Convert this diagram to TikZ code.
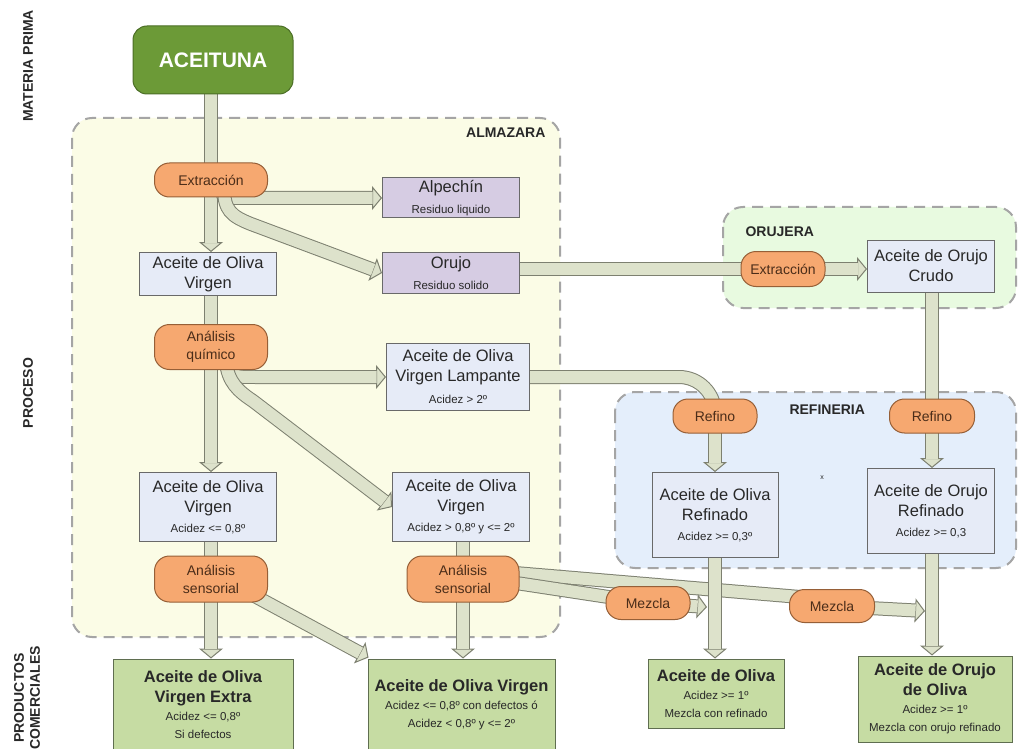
\documentclass[tikz,border=0pt]{standalone}
\usepackage{fontspec}
\setmainfont{Liberation Sans}
\usetikzlibrary{arrows.meta,calc}
\pgfdeclarelayer{bg}
\pgfdeclarelayer{arr}
\pgfsetlayers{bg,arr,main}
\definecolor{bandfill}{RGB}{221,226,203}
\definecolor{bandline}{RGB}{125,128,112}
\definecolor{pillfill}{RGB}{246,168,112}
\definecolor{pillline}{RGB}{150,95,55}
\definecolor{pilltext}{RGB}{75,45,25}
\definecolor{boxfill}{RGB}{230,235,247}
\definecolor{boxline}{RGB}{105,105,105}
\definecolor{purfill}{RGB}{214,204,227}
\definecolor{prodfill}{RGB}{198,220,163}
\definecolor{prodline}{RGB}{95,110,80}
\definecolor{acegreen}{RGB}{108,154,55}
\definecolor{aceline}{RGB}{75,110,38}
\definecolor{almfill}{RGB}{251,252,230}
\definecolor{orufill}{RGB}{232,250,224}
\definecolor{reffill}{RGB}{228,238,251}
\definecolor{dashcol}{RGB}{165,165,165}
\definecolor{txtcol}{RGB}{40,40,40}
\newcommand\smalltxt[1]{{\fontsize{11.5}{14}\selectfont #1}}
\newcommand\prodtitle[1]{{\bfseries\fontsize{16.5}{20}\selectfont #1}}
\newcommand\bandarrow[1]{%
  \draw[bandout,bandhead] #1;
  \draw[bandin,shorten >=9.5pt] #1;}
\newcommand\bandline[1]{%
  \draw[bandout] #1;
  \draw[bandin] #1;}
\tikzset{
  region/.style={draw=dashcol,line width=2pt,dash pattern=on 11pt off 7pt,rounded corners=20pt},
  pill/.style={draw=pillline,fill=pillfill,line width=1pt,rounded corners=15pt,text=pilltext,
    font=\fontsize{14}{18}\selectfont,align=center,inner sep=0pt},
  infobox/.style={draw=boxline,fill=boxfill,line width=1pt,font=\fontsize{16.5}{20}\selectfont,
    align=center,inner sep=0pt,text=txtcol},
  resbox/.style={infobox,fill=purfill},
  prodbox/.style={draw=prodline,fill=prodfill,line width=1pt,align=center,inner sep=0pt,
    font=\fontsize{11.5}{18}\selectfont,text=txtcol},
  side/.style={font=\bfseries\fontsize{14}{16}\selectfont,rotate=90,align=center,text=txtcol},
  reglabel/.style={font=\bfseries\fontsize{14}{16}\selectfont,text=txtcol},
  bandout/.style={line width=14pt,draw=bandline},
  bandin/.style={line width=12pt,draw=bandfill},
  bandhead/.style={-{Triangle[length=10pt,width=24pt,color=bandline,fill=bandfill,line width=1pt]}},
}
\begin{document}
\begin{tikzpicture}[x=1pt,y=-1pt]
\useasboundingbox (0,0) rectangle (1021,749);
% side labels
\node[side] (lmp) at (28,66) {MATERIA PRIMA};
\node[side] (lproc) at (28,393) {PROCESO};
\node[side] (lprod) at (27,698) {PRODUCTOS\\COMERCIALES};
% region labels
\node[reglabel,anchor=east] (lalm) at (549,133) {ALMAZARA};
\node[reglabel,anchor=west] (loru) at (742,232) {ORUJERA};
\node[reglabel,anchor=west] (lref) at (786,410) {REFINERIA};
\node[font=\fontsize{7}{8}\selectfont,text=txtcol] (xmark) at (822,478) {x};
% nodes
\node[draw=aceline,fill=acegreen,line width=1pt,rounded corners=14pt,minimum width=160pt,minimum height=68pt,
  text=white,font=\bfseries\fontsize{21}{24}\selectfont] (acei) at (213,60) {ACEITUNA};
\node[pill,minimum width=113pt,minimum height=34pt] (ext1) at (211,180) {Extracción};
\node[resbox,minimum width=137pt,minimum height=40pt] (alpe) at (451,198) {Alpechín\\[1pt]\smalltxt{Residuo liquido}};
\node[resbox,minimum width=137pt,minimum height=41pt] (oruj) at (451,273) {Orujo\\[1pt]\smalltxt{Residuo solido}};
\node[infobox,minimum width=137pt,minimum height=43pt] (aov1) at (208,274) {Aceite de Oliva\\Virgen};
\node[pill,minimum width=113pt,minimum height=45pt] (aq) at (211,347) {Análisis\\químico};
\node[infobox,minimum width=143pt,minimum height=67pt] (lamp) at (458,377) {Aceite de Oliva\\Virgen Lampante\\[2pt]\smalltxt{Acidez > 2º}};
\node[infobox,minimum width=137pt,minimum height=69pt] (aovL) at (208,507) {Aceite de Oliva\\Virgen\\\smalltxt{Acidez <= 0,8º}};
\node[infobox,minimum width=137pt,minimum height=69pt] (aovM) at (461,507) {Aceite de Oliva\\Virgen\\\smalltxt{Acidez > 0,8º y <= 2º}};
\node[pill,minimum width=113pt,minimum height=46pt] (asL) at (211,579) {Análisis\\sensorial};
\node[pill,minimum width=112pt,minimum height=46pt] (asM) at (463,579) {Análisis\\sensorial};
\node[pill,minimum width=84pt,minimum height=35pt] (ext2) at (783,269) {Extracción};
\node[infobox,minimum width=127pt,minimum height=52pt] (crudo) at (931,266) {Aceite de Orujo\\Crudo};
\node[pill,minimum width=84pt,minimum height=34pt] (ref1) at (715,416) {Refino};
\node[pill,minimum width=85pt,minimum height=34pt] (ref2) at (932,416) {Refino};
\node[infobox,minimum width=126pt,minimum height=85pt] (aor) at (715,515) {Aceite de Oliva\\Refinado\\\smalltxt{Acidez >= 0,3º}};
\node[infobox,minimum width=127pt,minimum height=85pt] (aorr) at (931,511) {Aceite de Orujo\\Refinado\\\smalltxt{Acidez >= 0,3}};
\node[pill,minimum width=84pt,minimum height=33pt] (mez1) at (648,603) {Mezcla};
\node[pill,minimum width=85pt,minimum height=33pt] (mez2) at (832,606) {Mezcla};
\node[prodbox,minimum width=180pt,minimum height=92pt] (p1) at (203,705)
  {\prodtitle{Aceite de Oliva}\\[2pt]\prodtitle{Virgen Extra}\\Acidez <= 0,8º\\Si defectos};
\node[prodbox,minimum width=187pt,minimum height=92pt] (p2) at (461.5,705)
  {\prodtitle{Aceite de Oliva Virgen}\\Acidez <= 0,8º con defectos ó\\Acidez < 0,8º y <= 2º};
\node[prodbox,minimum width=136pt,minimum height=69pt] (p3) at (716,693.5)
  {\prodtitle{Aceite de Oliva}\\Acidez >= 1º\\Mezcla con refinado};
\node[prodbox,minimum width=154pt,minimum height=86pt] (p4) at (935,699)
  {\prodtitle{Aceite de Orujo}\\[2pt]\prodtitle{de Oliva}\\Acidez >= 1º\\Mezcla con orujo refinado};
% regions
\begin{pgfonlayer}{bg}
\fill[white] (0,0) rectangle (1021,749);
\draw[region,fill=almfill] (72,118) rectangle (560,637);
\draw[region,fill=orufill] (723,207) rectangle (1016,308);
\draw[region,fill=reffill] (615,392) rectangle (1016,568);
\end{pgfonlayer}
% bands
\begin{pgfonlayer}{arr}
\bandline{(ext1.center |- acei.center) -- (ext1.center)}
\bandarrow{(ext1.center) -- (ext1.center |- aov1.north)}
\bandarrow{($(ext1.center)+(11,5)$) .. controls ($(ext1.center)+(11,18)$) .. ($(ext1.center)+(30,18)$) -- (alpe.west)}
\bandarrow{($(ext1.center)+(13,8)$) .. controls ($(ext1.center)+(13,30)$) and ($(ext1.center)+(20,36)$) .. ($(ext1.center)+(40,44)$) -- (oruj.west)}
\bandline{(ext1.center |- aov1.center) -- (aq.center)}
\bandarrow{(aq.center) -- (aq.center |- aovL.north)}
\bandarrow{($(aq.center)+(18,10)$) .. controls ($(aq.center)+(20,30)$) .. ($(aq.center)+(45,30)$) -- (lamp.west)}
\bandarrow{($(aq.center)+(15,15)$) .. controls ($(aq.center)+(17,35)$) and ($(aq.center)+(27,44)$) .. ($(aq.center)+(42,54)$) -- (aovM.west)}
\bandline{(lamp.center) [rounded corners=36pt] -- (ref1.center |- lamp.center) -- (ref1.center)}
\bandarrow{(ref1.center) -- (aor.north)}
\bandline{(ext2.center -| oruj.center) -- (ext2.center)}
\bandarrow{(ext2.center) -- (crudo.west |- ext2.center)}
\bandline{(ref2.center |- crudo.center) -- (ref2.center)}
\bandarrow{(ref2.center) -- (ref2.center |- aorr.north)}
\bandarrow{(ref2.center |- aorr.south) -- (ref2.center |- p4.north)}
\bandline{(asL.center |- aovL.center) -- (asL.center)}
\bandarrow{(asL.center) -- (asL.center |- p1.north)}
\bandarrow{($(asL.center)+(40,15)$) -- ($(p2.north west)+(1,-1)$)}
\bandline{(asM.center |- aovM.center) -- (asM.center)}
\bandarrow{(asM.center) -- (asM.center |- p2.north)}
\bandline{($(asM.center)+(40,-7)$) -- ($(mez2.center)+(-20,-8)$)}
\bandline{($(asM.center)+(40,2)$) -- (mez1.center)}
\bandarrow{(aor.south) -- (aor.south |- p3.north)}
\bandarrow{(mez1.center) -- ($(aor.south |- mez1.center)+(-8,4)$)}
\bandarrow{(mez2.center) -- ($(ref2.center |- mez2.center)+(-7,5)$)}
\end{pgfonlayer}
\end{tikzpicture}
\end{document}
